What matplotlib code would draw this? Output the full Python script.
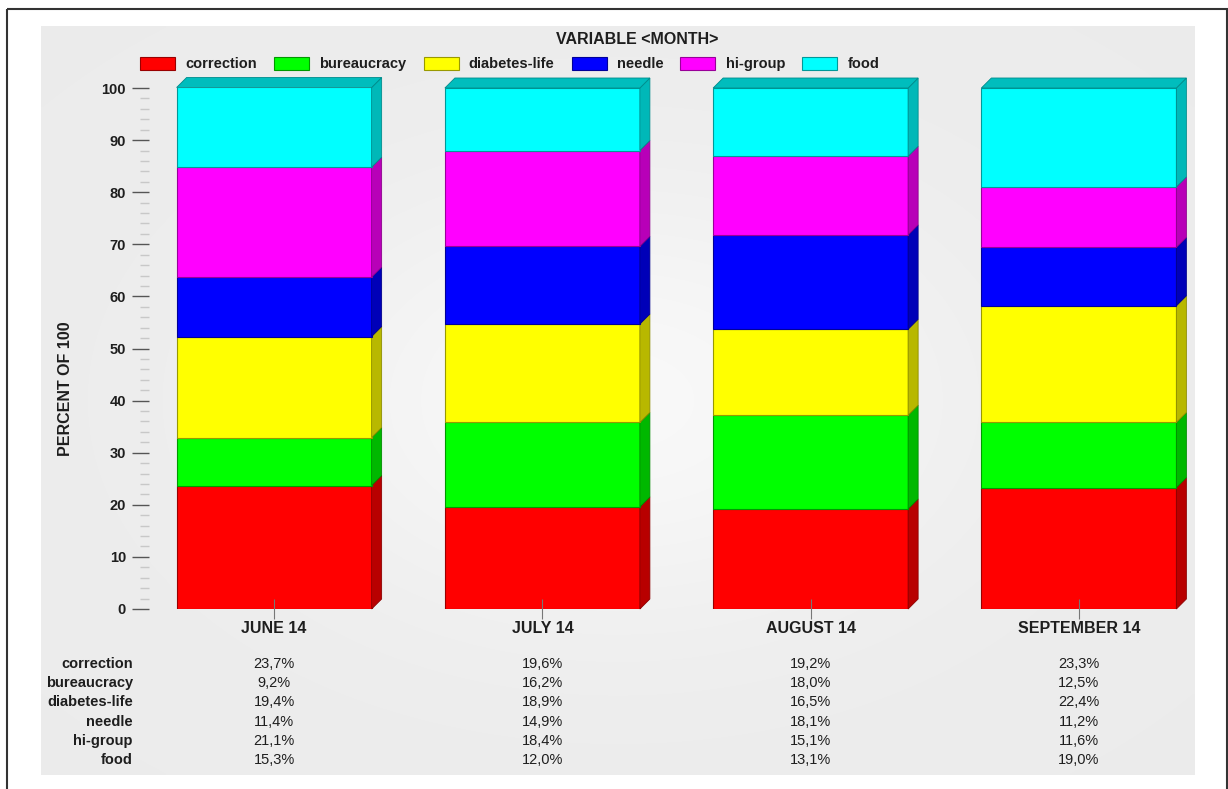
import numpy as np
import matplotlib
matplotlib.use("Agg")
import matplotlib.pyplot as plt
from matplotlib.patches import Rectangle, Polygon
from matplotlib.ticker import MultipleLocator
from matplotlib.transforms import blended_transform_factory

months = ["JUNE 14", "JULY 14", "AUGUST 14", "SEPTEMBER 14"]
series = ["correction", "bureaucracy", "diabetes-life", "needle", "hi-group", "food"]
correction = [23.7, 19.6, 19.2, 23.3]
bureaucracy = [9.2, 16.2, 18.0, 12.5]
diabetes_life = [19.4, 18.9, 16.5, 22.4]
needle = [11.4, 14.9, 18.1, 11.2]
hi_group = [21.1, 18.4, 15.1, 11.6]
food = [15.3, 12.0, 13.1, 19.0]
values = [correction, bureaucracy, diabetes_life, needle, hi_group, food]
colors = ["#ff0000", "#00ff00", "#ffff00", "#0000ff", "#ff00ff", "#00ffff"]

plt.rcParams['font.family'] = ['Liberation Sans', 'DejaVu Sans']
txt = "#1e1e1e"

W, H = 1228, 789
fig = plt.figure(figsize=(W / 100, H / 100), dpi=100)
fig.patch.set_facecolor("white")

# background: frame + light grey panel with a soft glow
bg = fig.add_axes([0, 0, 1, 1], zorder=-1)
bg.set_xlim(0, W)
bg.set_ylim(H, 0)
bg.axis("off")
gx, gy = np.meshgrid(np.linspace(-1, 1, 300), np.linspace(-1, 1, 200))
glow = 0.925 + 0.05 * np.exp(-(gx ** 2 + gy ** 2) / 0.35)
bg.imshow(np.dstack([glow] * 3), extent=(41, 1195, 775, 26), aspect="auto", interpolation="bilinear")
bg.add_patch(Rectangle((7, 9), 1220, 800, fill=False, edgecolor="#333333", lw=1.5))

# main axes: y 0 at pixel 609, 100 at pixel 88
left, right, y0px, y100px = 140, 1213, 609, 88
ax = fig.add_axes([left / W, (H - y0px) / H, (right - left) / W, (y0px - y100px) / H])
ax.patch.set_alpha(0)
ax.set_xlim(-0.5, 3.5)
ax.set_ylim(0, 100)
px_x = (right - left) / 4
px_y = (y0px - y100px) / 100
dx, dy = 10 / px_x, 10 / px_y
width = 195 / px_x
x = np.arange(len(months))


def darker(c, f=0.72):
    r, g, b = matplotlib.colors.to_rgb(c)
    return (r * f, g * f, b * f)


bottom = np.zeros(len(months))
handles = []
for name, vals, c in zip(series, values, colors):
    vals = np.array(vals)
    bars = ax.bar(x, vals, width, bottom=bottom, color=c, edgecolor=darker(c, 0.6), linewidth=0.8, label=name)
    handles.append(bars)
    for xi, b, v in zip(x, bottom, vals):
        xr = xi + width / 2
        ax.add_patch(Polygon([(xr, b), (xr + dx, b + dy), (xr + dx, b + v + dy), (xr, b + v)],
                             closed=True, facecolor=darker(c), edgecolor=darker(c, 0.55), lw=0.6, clip_on=False))
    bottom = bottom + vals

top_c = colors[-1]
for xi, t in zip(x, bottom):
    xl, xr = xi - width / 2, xi + width / 2
    ax.add_patch(Polygon([(xl, t), (xl + dx, t + dy), (xr + dx, t + dy), (xr, t)],
                         closed=True, facecolor=darker(top_c, 0.74), edgecolor=darker(top_c, 0.55), lw=0.6, clip_on=False))

for s in ax.spines.values():
    s.set_visible(False)
ax.spines["left"].set_position(("outward", -6.5))

ax.yaxis.set_major_locator(MultipleLocator(10))
ax.yaxis.set_minor_locator(MultipleLocator(2))
ax.tick_params(axis="y", which="major", length=12.2, width=1, color="#555555", pad=4.3,
               labelsize=10.5, labelcolor=txt)
ax.tick_params(axis="y", which="minor", length=6.5, width=1, color="#c8c8c8")
for lab in ax.get_yticklabels():
    lab.set_fontweight("bold")

ax.set_xticks(x)
ax.set_xticklabels(months, fontweight="bold", fontsize=11.5, color=txt)
ax.tick_params(axis="x", direction="inout", length=14, width=0.8, color="#777777", pad=1.5)

fig.text(65 / W, 1 - 389 / H, "PERCENT OF 100", rotation=90, ha="center", va="center",
         fontsize=11.5, fontweight="bold", color=txt)

# data table below the bars
tr = blended_transform_factory(ax.transData, fig.transFigure)
for r, (name, vals) in enumerate(zip(series, values)):
    ypx = 663.5 + r * 19.4
    fig.text(133 / W, 1 - ypx / H, name, ha="right", va="center", fontsize=10.5, fontweight="bold", color=txt)
    for xi, v in zip(x, vals):
        ax.text(xi, 1 - ypx / H, f"{v:.1f}%".replace(".", ","), transform=tr, ha="center", va="center",
                fontsize=10.5, color=txt)

# legend
fig.text(637 / W, 1 - 40 / H, "VARIABLE <MONTH>", ha="center", va="center", fontsize=11.5,
         fontweight="bold", color=txt)
leg = fig.legend(handles, series, loc="center left", bbox_to_anchor=(133 / W, 1 - 64 / H), ncol=6,
                 frameon=False, borderpad=0, handlelength=2.4, handleheight=1.05, handletextpad=0.7,
                 columnspacing=1.17, prop={"size": 10.5, "weight": "bold"})
for t in leg.get_texts():
    t.set_color(txt)

fig.savefig("out.png", dpi=100)
